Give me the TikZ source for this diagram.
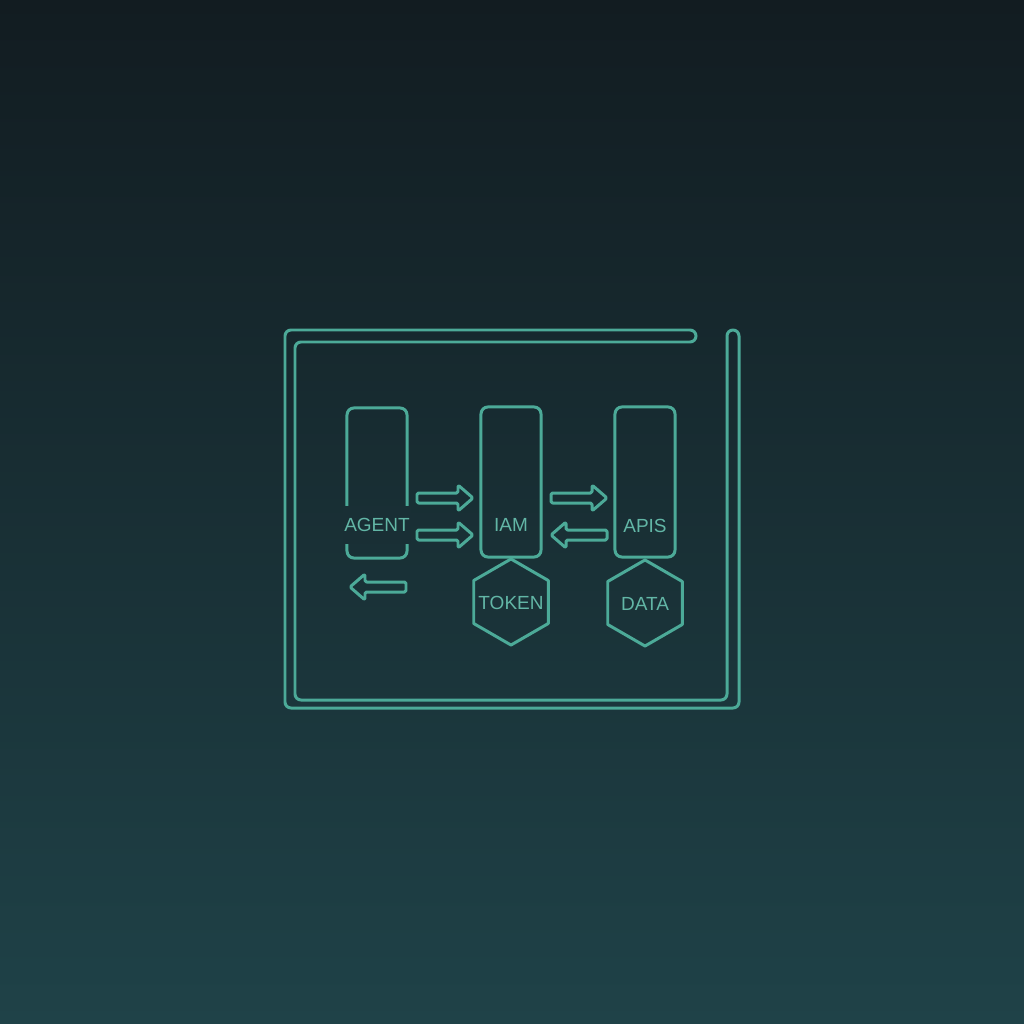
\documentclass[tikz,border=0pt]{standalone}
\usepackage{fontspec}
\setmainfont{Liberation Sans}
\usetikzlibrary{shapes.geometric}

\definecolor{bgtop}{RGB}{18,28,33}
\definecolor{bgbot}{RGB}{31,66,72}
\definecolor{line}{RGB}{76,170,152}
\definecolor{ink}{RGB}{98,182,166}
\colorlet{bgmid}{bgbot!51!bgtop}

\begin{document}
\begin{tikzpicture}[
        x=0.01cm, y=-0.01cm,
        stroke/.style={draw=line, line width=0.85pt, line join=round},
        box/.style={stroke, rectangle, rounded corners=0.7mm, minimum width=6mm, minimum height=15mm, inner sep=0pt},
        hexa/.style={stroke, regular polygon, regular polygon sides=6, shape border rotate=30, minimum size=8.6mm, inner sep=0pt},
        tag/.style={text=ink, font=\fontsize{5.4}{6}\selectfont, inner sep=0pt},
        pics/fatarrow/.style={code={
            \draw[stroke, rounded corners=0.15mm] (0,-5) -- (41,-5) -- (41,-13) -- (56,0) -- (41,13) -- (41,5) -- (0,5) -- cycle;
        }}
    ]
        % Background
        \shade[top color=bgtop, bottom color=bgbot] (0,0) rectangle (1024,1024);
        \useasboundingbox (0,0) rectangle (1024,1024);

        % Frame
        \draw[stroke, rounded corners=0.6mm] (285,500) -- (285,708) -- (739,708) -- (739,330) -- (727,330)
            -- (727,700) -- (295,700) -- (295,342) -- (696,342) -- (696,330) -- (285,330) -- cycle;

        % Agent
        \node[box] (agent) at (377,483) {};
        \node[tag, fill=bgmid, inner xsep=0.15mm, minimum height=3.8mm] (agentlabel) at (377,525) {AGENT};

        % IAM
        \node[box] (iam) at (511,482) {};
        \node[tag] (iamlabel) at (511,525) {IAM};

        % APIs
        \node[box] (apis) at (645,482) {};
        \node[tag] (apislabel) at (645,526) {APIS};

        % Token and data
        \node[hexa] (token) at (511,602) {};
        \node[tag] (tokenlabel) at (511,603) {TOKEN};
        \node[hexa] (data) at (645,603) {};
        \node[tag] (datalabel) at (645,604) {DATA};

        % Arrows
        \pic at (417,498) {fatarrow};
        \pic at (417,535) {fatarrow};
        \pic at (551,498) {fatarrow};
        \pic[rotate=180] at (607,535) {fatarrow};
        \pic[rotate=180] at (406,587) {fatarrow};
    \end{tikzpicture}
\end{document}
